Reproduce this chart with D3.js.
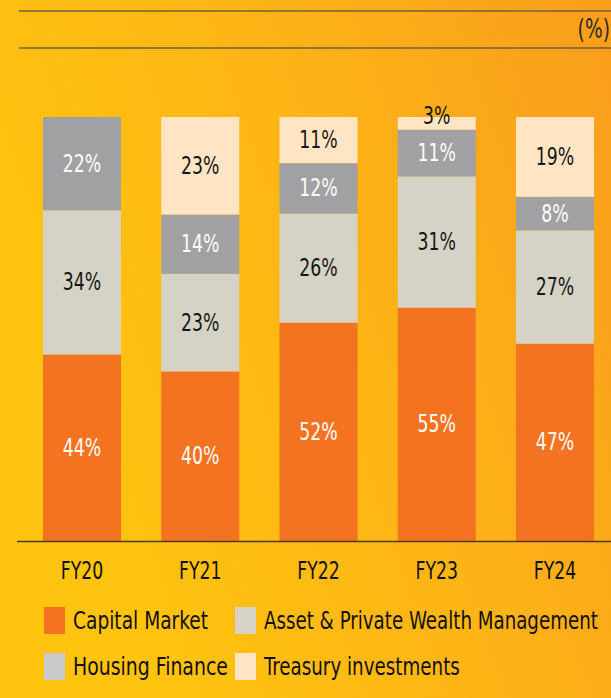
<!DOCTYPE html>
<html>
<head>
<meta charset="utf-8">
<script src="https://cdn.jsdelivr.net/npm/d3@7/dist/d3.min.js"></script>
<style>
  html, body { margin: 0; padding: 0; }
  body { width: 611px; height: 698px; overflow: hidden; }
  svg text { font-family: "Liberation Sans Narrow", "DejaVu Sans Condensed", sans-serif; }
</style>
</head>
<body>
<div id="chart"></div>
<script>
// Segment shares (%) per year
const years = ['FY20', 'FY21', 'FY22', 'FY23', 'FY24'];
const capitalMarket = [44, 40, 52, 55, 47];
const assetWealth = [34, 23, 26, 31, 27];
const housingFinance = [22, 14, 12, 11, 8];
const treasury = [0, 23, 11, 3, 19];

const segments = [
  { key: 'cm', label: 'Capital Market', values: capitalMarket, fill: '#f37321', swatch: '#f37321', text: '#fdfdfd' },
  { key: 'apwm', label: 'Asset & Private Wealth Management', values: assetWealth, fill: '#d4d3c6', swatch: '#d4d3c6', text: '#161616' },
  { key: 'hf', label: 'Housing Finance', values: housingFinance, fill: '#a1a1a4', swatch: '#c9c9cb', text: '#fdfdfd' },
  { key: 'ti', label: 'Treasury investments', values: treasury, fill: '#ffe5c4', swatch: '#ffe5c4', text: '#161616' },
];

const width = 611, height = 698;
const barTop = 117, baseline = 541;
const squeeze = 0.8; // condensed look for the labels

const rows = years.map((y, i) => {
  const r = { year: y };
  segments.forEach(s => { r[s.key] = s.values[i]; });
  return r;
});

const svg = d3.select('#chart').append('svg')
  .attr('width', width)
  .attr('height', height);

// background
const defs = svg.append('defs');
const grad = defs.append('linearGradient')
  .attr('id', 'bg')
  .attr('x1', '0%').attr('y1', '40%')
  .attr('x2', '100%').attr('y2', '0%');
grad.append('stop').attr('offset', '0%').attr('stop-color', '#ffc40f');
grad.append('stop').attr('offset', '50%').attr('stop-color', '#fdb416');
grad.append('stop').attr('offset', '100%').attr('stop-color', '#f99d1c');
svg.append('rect').attr('width', width).attr('height', height).attr('fill', 'url(#bg)');

// header rules + unit
svg.append('g')
  .selectAll('line')
  .data([11, 48])
  .join('line')
  .attr('x1', 19).attr('x2', width)
  .attr('y1', d => d).attr('y2', d => d)
  .attr('stroke', '#6f6240')
  .attr('stroke-width', 1.6);

svg.append('text')
  .attr('transform', `translate(610,38) scale(${squeeze},1)`)
  .attr('text-anchor', 'end')
  .attr('font-size', 26)
  .attr('fill', '#2a2a2a')
  .text('(%)');

const x = d3.scaleBand()
  .domain(years)
  .range([22.875, 614.125])
  .paddingInner(0.34)
  .paddingOuter(0.17);

const y = d3.scaleLinear()
  .domain([0, 1])
  .range([baseline, barTop]);

const stack = d3.stack()
  .keys(segments.map(s => s.key))
  .offset(d3.stackOffsetExpand);

const series = stack(rows);

const layer = svg.append('g')
  .selectAll('g')
  .data(series)
  .join('g')
  .attr('fill', (d, i) => segments[i].fill);

layer.selectAll('rect')
  .data(d => d)
  .join('rect')
  .attr('x', d => x(d.data.year))
  .attr('width', x.bandwidth())
  .attr('y', d => y(d[1]))
  .attr('height', d => y(d[0]) - y(d[1]));

// value labels
series.forEach((s, i) => {
  const seg = segments[i];
  svg.append('g')
    .selectAll('text')
    .data(s.filter(d => d.data[seg.key] > 0))
    .join('text')
    .attr('transform', d => {
      const h = y(d[0]) - y(d[1]);
      const cx = x(d.data.year) + x.bandwidth() / 2;
      const cy = h < 20 ? y(d[1]) + 7 : (y(d[0]) + y(d[1])) / 2 + 8;
      return `translate(${cx},${cy}) scale(${squeeze},1)`;
    })
    .attr('text-anchor', 'middle')
    .attr('font-size', 24)
    .attr('fill', seg.text)
    .text(d => d.data[seg.key] + '%');
});

// x axis
svg.append('line')
  .attr('x1', 17).attr('x2', width)
  .attr('y1', baseline + 0.5).attr('y2', baseline + 0.5)
  .attr('stroke', '#4a3a20')
  .attr('stroke-width', 1.5);

svg.append('g')
  .selectAll('text')
  .data(years)
  .join('text')
  .attr('transform', d => `translate(${x(d) + x.bandwidth() / 2},579) scale(${squeeze},1)`)
  .attr('text-anchor', 'middle')
  .attr('font-size', 24)
  .attr('fill', '#111')
  .text(d => d);

// legend
const legendPos = [
  { x: 44, y: 607, w: 135 },
  { x: 235, y: 607, w: 334 },
  { x: 44, y: 653, w: 155 },
  { x: 235, y: 653, w: 196 },
];
const legend = svg.append('g')
  .selectAll('g')
  .data(segments)
  .join('g')
  .attr('transform', (d, i) => `translate(${legendPos[i].x},${legendPos[i].y})`);

legend.append('rect')
  .attr('width', 21)
  .attr('height', 27)
  .attr('fill', d => d.swatch);

// squeeze each legend label to the width it has in the original
legend.append('text')
  .attr('font-size', 25)
  .attr('fill', '#111')
  .text(d => d.label)
  .attr('transform', function(d, i) {
    const k = legendPos[i].w / this.getComputedTextLength();
    return `translate(29,22) scale(${k},1)`;
  });
</script>
</body>
</html>
